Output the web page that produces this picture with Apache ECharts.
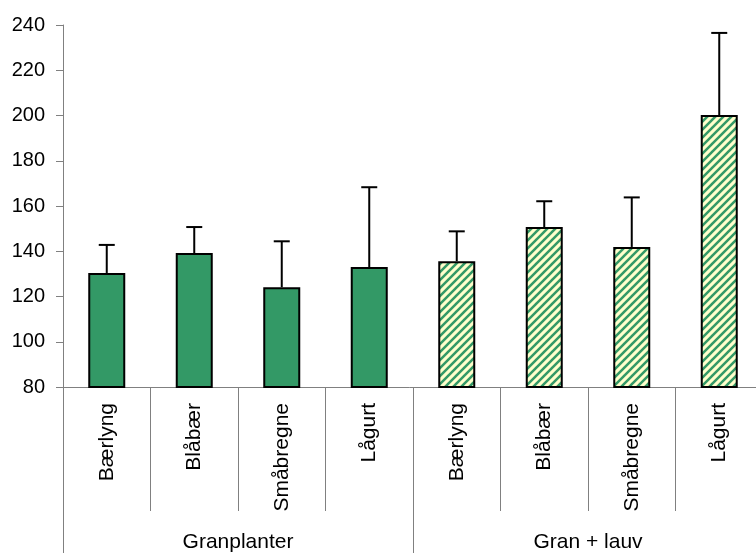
<!DOCTYPE html>
<html>
<head>
<meta charset="utf-8">
<script src="https://cdn.jsdelivr.net/npm/echarts@6/dist/echarts.min.js"></script>
<style>
  html, body { margin: 0; padding: 0; background: #fff; }
  #chart { width: 756px; height: 553px; }
</style>
</head>
<body>
<div id="chart"></div>
<script>
// Plant categories (inner axis) and treatment groups (outer axis)
const species = ['Bærlyng', 'Blåbær', 'Småbregne', 'Lågurt', 'Bærlyng', 'Blåbær', 'Småbregne', 'Lågurt'];
const groups = ['Granplanter', 'Gran + lauv'];
// Mean values and upper error amounts
const means = [130.4, 139.2, 124.1, 133.0, 135.6, 150.7, 141.9, 200.2];
const errors = [12.4, 11.5, 20.3, 35.3, 13.2, 11.4, 21.9, 36.3];
const yTicks = { min: 80, max: 240, step: 20 };

const FONT = '"Liberation Sans", Arial, sans-serif';
const AXIS_GRAY = '#808080';

// Diagonal hatch tile: green stripes on pale yellow
function hatchTile() {
  const s = 8;
  const c = document.createElement('canvas');
  c.width = s; c.height = s;
  const g = c.getContext('2d');
  g.fillStyle = '#FFFFCC';
  g.fillRect(0, 0, s, s);
  g.strokeStyle = '#339966';
  g.lineWidth = 2.5;
  g.lineCap = 'square';
  [-s, 0, s].forEach((dx) => {
    g.beginPath();
    g.moveTo(dx, s);
    g.lineTo(dx + s, 0);
    g.stroke();
  });
  return c;
}
const hatch = { image: hatchTile(), repeat: 'repeat' };

const barData = means.map((v, i) => ({
  value: v,
  itemStyle: { color: i < 4 ? '#339966' : hatch }
}));
const errData = means.map((v, i) => [i, v, v + errors[i]]);

const chart = echarts.init(document.getElementById('chart'), null, { renderer: 'canvas' });
chart.setOption({
  animation: false,
  backgroundColor: '#ffffff',
  grid: { left: 63, top: 25, width: 700, height: 362, containLabel: false, outerBoundsMode: 'none' },
  xAxis: [
    {
      type: 'category',
      data: species,
      position: 'bottom',
      axisLine: { show: true, lineStyle: { color: AXIS_GRAY, width: 1 } },
      axisTick: { show: true, interval: 0, length: 124, lineStyle: { color: AXIS_GRAY, width: 1 } },
      axisLabel: {
        interval: 0, rotate: 90, margin: 16,
        color: '#000', fontFamily: FONT, fontSize: 21
      }
    },
    {
      type: 'category',
      data: groups,
      position: 'bottom',
      axisLine: { show: false },
      axisTick: { show: true, interval: 0, length: 170, lineStyle: { color: AXIS_GRAY, width: 1 } },
      axisLabel: {
        interval: 0, margin: 145,
        color: '#000', fontFamily: FONT, fontSize: 21
      }
    }
  ],
  yAxis: {
    type: 'value',
    min: yTicks.min, max: yTicks.max, interval: yTicks.step,
    splitLine: { show: false },
    axisLine: { show: true, lineStyle: { color: AXIS_GRAY, width: 1 } },
    axisTick: { show: true, length: 7, lineStyle: { color: AXIS_GRAY, width: 1 } },
    axisLabel: { margin: 18, color: '#000', fontFamily: FONT, fontSize: 20 }
  },
  series: [
    {
      type: 'bar',
      xAxisIndex: 0,
      data: barData,
      barWidth: 37,
      itemStyle: { borderColor: '#000', borderWidth: 2 },
      z: 2
    },
    {
      type: 'custom',
      xAxisIndex: 0,
      data: errData,
      z: 3,
      renderItem: function (params, api) {
        const base = api.coord([api.value(0), api.value(1)]);
        const top = api.coord([api.value(0), api.value(2)]);
        const half = 8;
        const style = { stroke: '#000', lineWidth: 2 };
        return {
          type: 'group',
          children: [
            { type: 'line', shape: { x1: base[0], y1: base[1], x2: top[0], y2: top[1] }, style },
            { type: 'line', shape: { x1: top[0] - half, y1: top[1], x2: top[0] + half, y2: top[1] }, style }
          ]
        };
      }
    }
  ]
});
</script>
</body>
</html>
